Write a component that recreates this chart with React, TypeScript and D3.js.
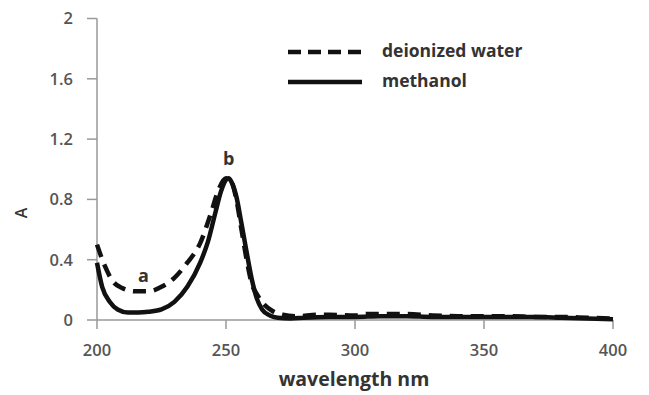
import React from "react";
import * as d3 from "d3";

const xTicks = [200, 250, 300, 350, 400];
const yTicks = [0, 0.4, 0.8, 1.2, 1.6, 2];

const waterWl = [200, 203, 206, 210, 215, 220, 225, 230, 235, 240, 244, 247, 250, 252, 254, 256, 258, 260, 262, 265, 268, 272, 278, 285, 290, 300, 305, 310, 320, 330, 340, 350, 360, 370, 380, 390, 400];
const waterA = [0.5, 0.36, 0.26, 0.21, 0.19, 0.19, 0.22, 0.28, 0.38, 0.51, 0.7, 0.86, 0.94, 0.92, 0.8, 0.6, 0.4, 0.24, 0.17, 0.1, 0.06, 0.035, 0.025, 0.035, 0.035, 0.03, 0.04, 0.04, 0.04, 0.03, 0.025, 0.025, 0.025, 0.02, 0.02, 0.015, 0.01];

const methWl = [200, 202, 205, 208, 212, 216, 220, 225, 230, 235, 240, 243, 246, 248, 250, 251, 252, 254, 256, 258, 260, 262, 264, 267, 270, 275, 280, 290, 300, 310, 320, 330, 340, 350, 360, 370, 380, 390, 400];
const methA = [0.38, 0.22, 0.12, 0.07, 0.05, 0.05, 0.055, 0.07, 0.12, 0.22, 0.38, 0.52, 0.72, 0.85, 0.93, 0.94, 0.92, 0.82, 0.64, 0.45, 0.27, 0.14, 0.07, 0.03, 0.015, 0.01, 0.015, 0.02, 0.02, 0.025, 0.025, 0.02, 0.02, 0.02, 0.02, 0.02, 0.015, 0.01, 0.005];

const labels = [
  { text: "a", wl: 218, a: 0.255 },
  { text: "b", wl: 251, a: 1.03 },
];

const legend = [
  { name: "deionized water", dash: "13,7" },
  { name: "methanol", dash: null },
];

const W = 649, H = 395;
const font = "'Open Sans', 'DejaVu Sans', sans-serif";

export default function App() {
  const x = d3.scaleLinear().domain([200, 400]).range([97, 613]);
  const y = d3.scaleLinear().domain([0, 2]).range([320, 18.5]);

  const line = d3.line<[number, number]>()
    .x(d => x(d[0]))
    .y(d => y(d[1]))
    .curve(d3.curveMonotoneX);

  const waterPts = waterWl.map((w, i) => [w, waterA[i]] as [number, number]);
  const methPts = methWl.map((w, i) => [w, methA[i]] as [number, number]);

  return (
    <svg width={W} height={H} style={{ position: "absolute", left: 0, top: 0, background: "#fff" }}>
      {/* axes */}
      <g stroke="#999" strokeWidth={1.5} fill="none">
        <line x1={x(200)} x2={x(200)} y1={y(2)} y2={y(0)} />
        <line x1={x(200)} x2={x(400)} y1={y(0)} y2={y(0)} />
        {yTicks.map(t => (
          <line key={t} x1={x(200) - 10} x2={x(200)} y1={y(t)} y2={y(t)} />
        ))}
        {xTicks.map(t => (
          <line key={t} x1={x(t)} x2={x(t)} y1={y(0)} y2={y(0) + 9} />
        ))}
      </g>
      <g fill="#555" fontFamily={font} fontSize={16.5} fontWeight={600}>
        {yTicks.map(t => (
          <text key={t} x={x(200) - 24} y={y(t)} dy="0.36em" textAnchor="end">{t}</text>
        ))}
        {xTicks.map(t => (
          <text key={t} x={x(t)} y={y(0) + 36} textAnchor="middle">{t}</text>
        ))}
      </g>
      <text x={354} y={386} textAnchor="middle" fontFamily={font} fontSize={19.5} fontWeight={700} fill="#333">wavelength nm</text>
      <text transform="translate(27,213) rotate(-90)" textAnchor="middle" fontFamily={font} fontSize={16} fontWeight={600} fill="#333">A</text>

      {/* curves */}
      <path d={line(waterPts) ?? ""} fill="none" stroke="#111" strokeWidth={4.5} strokeDasharray="13,8" />
      <path d={line(methPts) ?? ""} fill="none" stroke="#111" strokeWidth={4.5} />

      {labels.map(l => (
        <text key={l.text} x={x(l.wl)} y={y(l.a)} textAnchor="middle" fontFamily={font} fontSize={18} fontWeight={700} fill="#333">{l.text}</text>
      ))}

      {/* legend */}
      {legend.map((l, i) => (
        <g key={l.name} transform={`translate(0,${52 + i * 30})`}>
          <line x1={288} x2={362} y1={0} y2={0} stroke="#111" strokeWidth={4.5} strokeDasharray={l.dash ?? undefined} />
          <text x={382} y={0} dy="0.3em" fontFamily={font} fontSize={17.5} fontWeight={700} fill="#333">{l.name}</text>
        </g>
      ))}
    </svg>
  );
}
